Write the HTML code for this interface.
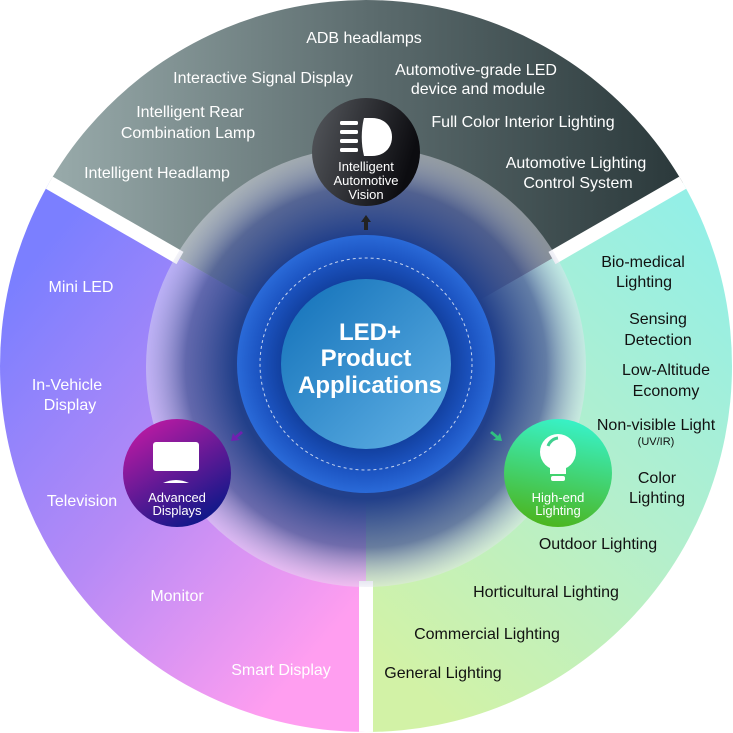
<!DOCTYPE html>
<html><head><meta charset="utf-8"><style>
html,body{margin:0;padding:0;background:#fff;width:733px;height:733px;overflow:hidden}
svg{display:block}
svg text{font-family:"Liberation Sans","DejaVu Sans",sans-serif}
</style></head><body>
<svg width="733" height="733" viewBox="0 0 733 733" xmlns="http://www.w3.org/2000/svg">
<defs>
<linearGradient id="gTop" gradientUnits="userSpaceOnUse" x1="60" y1="100" x2="680" y2="100">
<stop offset="0" stop-color="#97a9a9"/><stop offset="0.5" stop-color="#5c6c6e"/><stop offset="1" stop-color="#2b393b"/></linearGradient>
<linearGradient id="gLeft" gradientUnits="userSpaceOnUse" x1="0" y1="300" x2="360" y2="600">
<stop offset="0" stop-color="#7b7fff"/><stop offset="0.5" stop-color="#b58af6"/><stop offset="1" stop-color="#ff9ef0"/></linearGradient>
<linearGradient id="gRight" gradientUnits="userSpaceOnUse" x1="733" y1="250" x2="373" y2="650">
<stop offset="0" stop-color="#94efe6"/><stop offset="0.5" stop-color="#b4efcc"/><stop offset="1" stop-color="#d2f2a6"/></linearGradient>
<radialGradient id="gGlow" cx="0.5" cy="0.5" r="0.5">
<stop offset="0" stop-color="#1a3a86"/><stop offset="0.6" stop-color="#22408a"/>
<stop offset="0.82" stop-color="#50609a" stop-opacity="0.8"/>
<stop offset="1" stop-color="#e4e4f0" stop-opacity="0.45"/></radialGradient>
<radialGradient id="gRing" cx="0.5" cy="0.5" r="0.5">
<stop offset="0.6" stop-color="#0f3a96"/><stop offset="0.85" stop-color="#1d56c4"/><stop offset="1" stop-color="#2a6ad8"/></radialGradient>
<linearGradient id="gInner" x1="0" y1="0" x2="1" y2="1">
<stop offset="0" stop-color="#1170b8"/><stop offset="1" stop-color="#62b2e6"/></linearGradient>
<linearGradient id="gNTop" x1="0" y1="0" x2="1" y2="0.3">
<stop offset="0" stop-color="#56595e"/><stop offset="1" stop-color="#0c0c10"/></linearGradient>
<linearGradient id="gNLeft" x1="0" y1="0" x2="0.6" y2="1">
<stop offset="0" stop-color="#d01ba6"/><stop offset="1" stop-color="#14188a"/></linearGradient>
<linearGradient id="gNRight" x1="0.6" y1="0" x2="0.4" y2="1">
<stop offset="0" stop-color="#38f2c8"/><stop offset="1" stop-color="#4cb51e"/></linearGradient>
<clipPath id="cc"><circle cx="366" cy="366" r="366"/></clipPath>
</defs>
<g clip-path="url(#cc)">
<polygon points="366,366 -500,-134 -500,-800 1300,-800 1232,-134" fill="url(#gTop)"/>
<polygon points="366,366 -500,-134 -500,1400 366,1400" fill="url(#gLeft)"/>
<polygon points="366,366 366,1400 1400,1400 1232,-134" fill="url(#gRight)"/>
<g stroke="#fff" stroke-width="14">
<line x1="180" y1="258" x2="-500" y2="-134"/>
<line x1="552" y1="258" x2="1232" y2="-134"/>
<line x1="366" y1="581" x2="366" y2="1400"/>
</g>
</g>
<circle cx="366" cy="367" r="220" fill="url(#gGlow)"/>
<circle cx="366" cy="364" r="129" fill="url(#gRing)"/>
<circle cx="366" cy="364" r="106" fill="none" stroke="#fff" stroke-opacity="0.75" stroke-width="1" stroke-dasharray="3 3"/>
<circle cx="366" cy="364" r="85" fill="url(#gInner)"/>
<g fill="#fff" font-weight="bold" font-size="24" text-anchor="middle">
<text x="370" y="340">LED+</text><text x="366" y="366">Product</text><text x="370" y="393">Applications</text></g>
<path d="M366 215 l-5 7 h3 v8 h4 v-8 h3 z" fill="#222"/>
<path d="M231 441 l9 -1 l-3 -2 l6 -5 l-2 -2 l-6 5 l-2 -3 z" fill="#7020b0"/>
<path d="M502 441 l-9 -1 l3 -2 l-6 -5 l2 -2 l6 5 l2 -3 z" fill="#30c080"/>
<circle cx="366" cy="152" r="54" fill="url(#gNTop)"/>
<g fill="#fff"><rect x="340" y="121" width="18" height="4" rx="1.5"/><rect x="340" y="130" width="18" height="4" rx="1.5"/><rect x="340" y="139" width="18" height="4" rx="1.5"/><rect x="340" y="148" width="18" height="4" rx="1.5"/>
<path d="M364 118 h8 c12 0 20 8 20 19 c0 11 -8 19 -20 19 h-8 c-3 -12 -3 -26 0 -38 z"/></g>
<g fill="#fff" font-size="13" text-anchor="middle"><text x="366" y="171">Intelligent</text><text x="366" y="185">Automotive</text><text x="366" y="199">Vision</text></g>
<circle cx="177" cy="473" r="54" fill="url(#gNLeft)"/>
<g fill="#fff"><rect x="153" y="442" width="46" height="29" rx="3"/><path d="M163 483 q13 -6 26 0 z"/></g>
<g fill="#fff" font-size="13" text-anchor="middle"><text x="177" y="502">Advanced</text><text x="177" y="515">Displays</text></g>
<circle cx="558" cy="473" r="54" fill="url(#gNRight)"/>
<g fill="#fff"><circle cx="558" cy="452" r="18"/><rect x="550" y="462" width="16" height="12"/><rect x="551" y="476" width="14" height="5" rx="2"/></g>
<path d="M548 446 a12 12 0 0 1 10 -8" stroke="#40d090" stroke-width="3" fill="none"/>
<g fill="#fff" font-size="13" text-anchor="middle"><text x="558" y="502">High-end</text><text x="558" y="515">Lighting</text></g>
<g fill="#fff" font-size="16" text-anchor="middle">
<text x="364" y="43">ADB headlamps</text>
<text x="263" y="83">Interactive Signal Display</text>
<text x="476" y="75">Automotive-grade LED</text>
<text x="478" y="94">device and module</text>
<text x="190" y="117">Intelligent Rear</text>
<text x="188" y="138">Combination Lamp</text>
<text x="523" y="127">Full Color Interior Lighting</text>
<text x="157" y="178">Intelligent Headlamp</text>
<text x="576" y="168">Automotive Lighting</text>
<text x="578" y="188">Control System</text>
<text x="81" y="292">Mini LED</text>
<text x="67" y="390">In-Vehicle</text>
<text x="70" y="410">Display</text>
<text x="82" y="506">Television</text>
<text x="177" y="601">Monitor</text>
<text x="281" y="675">Smart Display</text>
</g>
<g fill="#111" font-size="16" text-anchor="middle">
<text x="643" y="267">Bio-medical</text><text x="644" y="287">Lighting</text>
<text x="658" y="324">Sensing</text><text x="658" y="345">Detection</text>
<text x="666" y="375">Low-Altitude</text><text x="666" y="396">Economy</text>
<text x="656" y="430">Non-visible Light</text><text x="656" y="445" font-size="11">(UV/IR)</text>
<text x="657" y="483">Color</text><text x="657" y="503">Lighting</text>
<text x="598" y="549">Outdoor Lighting</text>
<text x="546" y="597">Horticultural Lighting</text>
<text x="487" y="639">Commercial Lighting</text>
<text x="443" y="678">General Lighting</text>
</g>
</svg>
</body></html>
